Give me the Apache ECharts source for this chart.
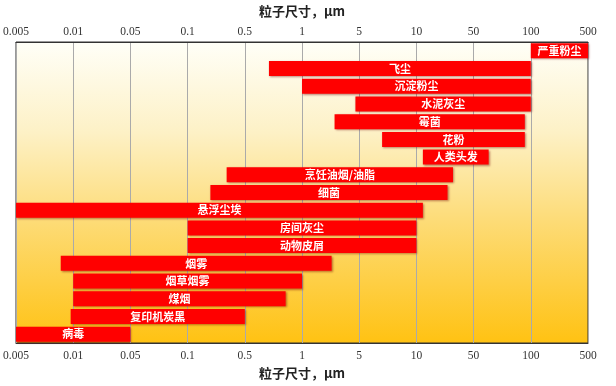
<!DOCTYPE html>
<html>
<head>
<meta charset="utf-8">
<script src="https://cdn.jsdelivr.net/npm/echarts@6/dist/echarts.min.js"></script>
<style>html,body{margin:0;padding:0;background:#fff;}#c{width:616px;height:386px;}</style>
</head>
<body>
<div id="c"></div>
<script>
var tickLabels = ['0.005','0.01','0.05','0.1','0.5','1','5','10','50','100','500'];
var tickValues = [0.005,0.01,0.05,0.1,0.5,1,5,10,50,100,500];
var categories = ['严重粉尘','飞尘','沉淀粉尘','水泥灰尘','霉菌','花粉','人类头发','烹饪油烟/油脂','细菌','悬浮尘埃','房间灰尘','动物皮屑','烟雾','烟草烟雾','煤烟','复印机炭黑','病毒'];
var sizeMin = [100,0.67,1,4.5,2.5,6.6,12,0.3,0.19,0.005,0.1,0.1,0.0086,0.01,0.01,0.0097,0.005];
var sizeMax = [500,100,100,100,93,93,60,28,24,12,10,10,2.3,1,0.82,0.5,0.05];

function toIdx(v){
  for (var i=0;i<tickValues.length-1;i++){
    if (v <= tickValues[i+1]) {
      return i + Math.log(v/tickValues[i]) / Math.log(tickValues[i+1]/tickValues[i]);
    }
  }
  return tickValues.length-1;
}
var baseData = sizeMin.map(toIdx);
var lenData = sizeMax.map(function(v,i){ return toIdx(v) - baseData[i]; });

var chart = echarts.init(document.getElementById('c'));
var labelStyle = {fontFamily:'Liberation Serif', fontSize:11.5, color:'#333'};
var nameStyle = {fontFamily:'Noto Sans CJK SC', fontSize:13, color:'#222', fontWeight:'bold'};
chart.setOption({
  animation:false,
  grid:{left:16,right:28,top:35,bottom:43,show:true,borderColor:'#333',borderWidth:1,
    backgroundColor:{type:'linear',x:0,y:0,x2:0,y2:1,colorStops:[
      {offset:0,color:'#FFFFF8'},{offset:0.3,color:'#FDF1C6'},{offset:0.6,color:'#FDDB75'},{offset:1,color:'#FFC212'}]}},
  xAxis:[
    {type:'value',min:0,max:10,interval:1,position:'bottom',
      name:'粒子尺寸，μm',nameLocation:'middle',nameGap:24,nameTextStyle:nameStyle,
      axisLine:{show:true,lineStyle:{color:'#333'}},axisTick:{show:false},
      axisLabel:Object.assign({margin:7,formatter:function(v){return tickLabels[Math.round(v)];}},labelStyle),
      splitLine:{show:true,lineStyle:{color:'#aaa',width:1}}},
    {type:'value',min:0,max:10,interval:1,position:'top',
      name:'粒子尺寸，μm',nameLocation:'middle',nameGap:24,nameTextStyle:nameStyle,
      axisLine:{show:true,lineStyle:{color:'#333'}},axisTick:{show:false},
      axisLabel:Object.assign({margin:4,formatter:function(v){return tickLabels[Math.round(v)];}},labelStyle),
      splitLine:{show:false}}
  ],
  yAxis:{type:'category',data:categories,inverse:true,
    axisLine:{show:false},axisTick:{show:false},axisLabel:{show:false},splitLine:{show:false}},
  series:[
    {type:'bar',stack:'s',data:baseData,barWidth:15,silent:true,itemStyle:{color:'rgba(0,0,0,0)'}},
    {type:'bar',stack:'s',data:lenData,barWidth:15,
      itemStyle:{color:'#FF0000',shadowColor:'rgba(110,0,0,0.45)',shadowBlur:2,shadowOffsetX:1,shadowOffsetY:1},
      label:{show:true,position:'inside',color:'#fff',fontFamily:'Noto Sans CJK SC',fontWeight:'bold',fontSize:11,
        formatter:function(p){return categories[p.dataIndex];}}}
  ]
});
</script>
</body>
</html>
